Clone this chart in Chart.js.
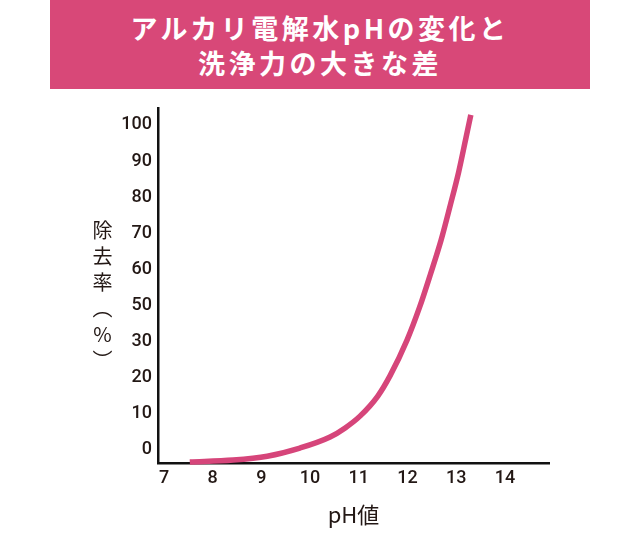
<!DOCTYPE html>
<html lang="ja">
<head>
<meta charset="utf-8">
<script src="https://cdn.jsdelivr.net/npm/chart.js@4.4.1/dist/chart.umd.min.js"></script>
<style>
  html, body { margin: 0; padding: 0; background: #fff; }
  #wrap { position: relative; width: 640px; height: 540px; }
  #banner {
    position: absolute; left: 50px; top: 0; width: 540px; height: 89px;
    box-sizing: border-box; padding-top: 10px;
    background: #d84878; color: #fff; text-align: center;
    font-family: "Noto Sans CJK JP", sans-serif; font-weight: 700;
    font-size: 27px; line-height: 35px; letter-spacing: 3.5px;
  }
  #ytitle {
    position: absolute; left: 92px; top: 220px;
    writing-mode: vertical-rl; text-orientation: upright;
    font-family: "Noto Sans CJK JP", sans-serif; font-size: 20px;
    line-height: 20px; letter-spacing: 6px; color: #231815;
  }
  canvas { position: absolute; left: 0; top: 0; }
</style>
</head>
<body>
<div id="wrap">
  <canvas id="chart" width="640" height="540"></canvas>
  <div id="banner"></div>
  <div id="ytitle"></div>
</div>
<script>
const titleLines = ["アルカリ電解水pHの変化と", "洗浄力の大きな差"];
const yTitle = "除去率（%）";
const xTitle = "pH値";

// pH and removal rate (%)
const phValues = [7.53, 8.42, 9.12, 9.79, 10.41, 10.72, 11.03, 11.39, 11.64, 11.99, 12.25, 12.48, 12.69, 12.88, 13.05, 13.20, 13.30];
const removalRates = [-3.7, -3.1, -1.9, 0.6, 4.0, 6.8, 10.5, 16.6, 22.8, 33.8, 44.0, 54.5, 64.6, 75.4, 85.5, 96.0, 103.1];

const xTickLabels = ["7", "8", "9", "10", "11", "12", "13", "14"];
const yTickLabels = ["0", "10", "20", "30", "50", "60", "70", "80", "90", "100"];

document.getElementById("banner").innerHTML = titleLines.join("<br>");
document.getElementById("ytitle").textContent = yTitle;

const tickFont = { family: "Roboto, sans-serif", size: 18, weight: 500 };
const ink = "#231815";

new Chart(document.getElementById("chart").getContext("2d"), {
  type: "line",
  data: {
    datasets: [{
      data: phValues.map((x, i) => ({ x: x, y: removalRates[i] })),
      borderColor: "#d6457a",
      borderWidth: 5.5,
      pointRadius: 0,
      cubicInterpolationMode: "monotone",
      clip: false,
    }],
  },
  options: {
    responsive: false,
    animation: false,
    layout: { padding: { left: 0, top: 108, right: 91, bottom: 0 } },
    plugins: { legend: { display: false }, tooltip: { enabled: false } },
    scales: {
      x: {
        type: "linear",
        min: 6.877,
        max: 14.905,
        grid: { display: false, drawTicks: false },
        border: { display: true, color: "#111", width: 2.5 },
        afterBuildTicks: (scale) => {
          scale.ticks = xTickLabels.map((l) => ({ value: Number(l) }));
        },
        afterFit: (scale) => { scale.height = 77; },
        ticks: {
          color: ink, font: tickFont, padding: 5, maxRotation: 0, autoSkip: false,
          callback: (v, i) => xTickLabels[i],
        },
        title: {
          display: true, text: xTitle, color: ink,
          font: { family: "'Noto Sans CJK JP', sans-serif", size: 22 },
          padding: { top: 0, bottom: 12 },
        },
      },
      y: {
        type: "linear",
        min: -4,
        max: 105.2,
        grid: { display: false, drawTicks: false },
        border: { display: true, color: "#111", width: 2.5 },
        afterBuildTicks: (scale) => {
          scale.ticks = yTickLabels.map((l, i) => ({ value: i * 100 / (yTickLabels.length - 1) }));
        },
        afterFit: (scale) => { scale.width = 158; },
        ticks: {
          color: ink, font: tickFont, padding: 6, autoSkip: false,
          callback: (v, i) => yTickLabels[i],
        },
      },
    },
  },
});
</script>
</body>
</html>
